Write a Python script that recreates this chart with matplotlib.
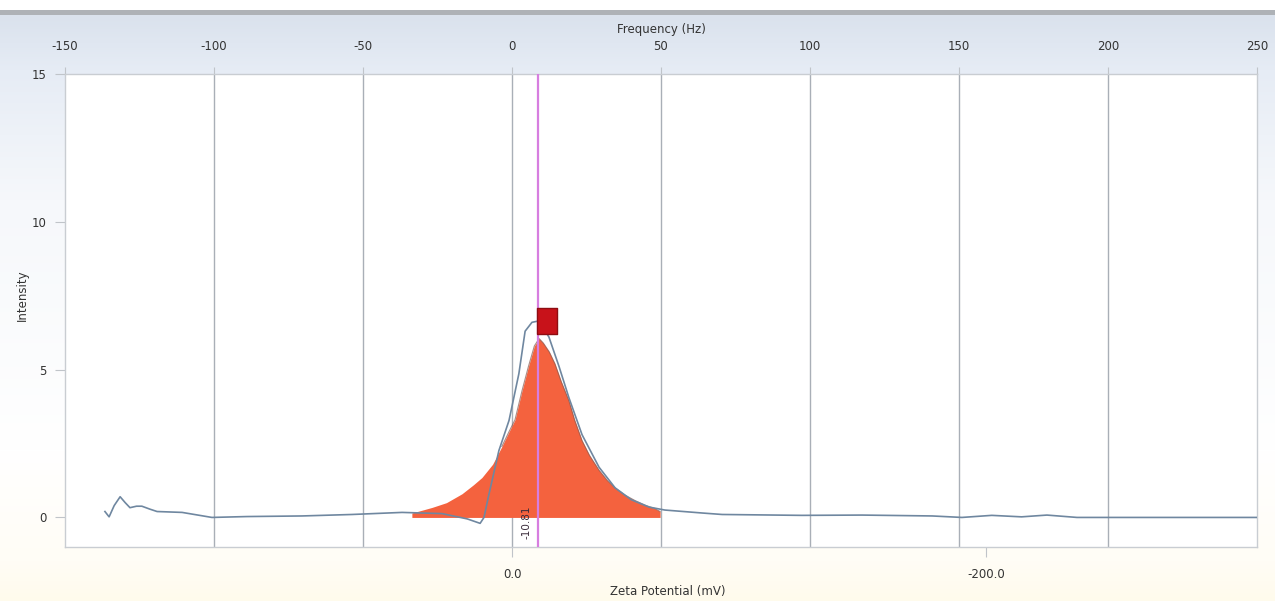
import numpy as np
import matplotlib
matplotlib.use("Agg")
import matplotlib.pyplot as plt
from matplotlib.patches import Rectangle

# ---------------- data ----------------
freq_ticks = [-150, -100, -50, 0, 50, 100, 150, 200, 250]
y_ticks = [0, 5, 10, 15]
zeta_ticks = [0.0, -200.0]
zeta_tick_labels = ["0.0", "-200.0"]
mv_per_hz = -1.258          # zeta potential (mV) per frequency (Hz)

# measured intensity curve (frequency in Hz)
curve_hz = [-136.6, -135.2, -133.5, -131.5, -129.8, -128.2, -126.0, -124.2, -121.5, -119.1,
            -110.7, -100.7, -88.9, -70.5, -53.7, -36.9, -23.5, -15.0, -10.7, -9.4,
            -7.7, -4.4, -1.0, 2.3, 4.4, 6.7, 9.1, 12.4, 15.8, 19.1,
            23.5, 29.2, 34.6, 40.0, 46.0, 51.3, 63.8, 70.5, 97.3, 117.4,
            141.0, 151.0, 161.0, 171.0, 179.5, 189.6, 201.0, 250.0]
curve_int = [0.2, 0.02, 0.4, 0.7, 0.5, 0.33, 0.38, 0.38, 0.28, 0.2,
             0.17, 0.0, 0.03, 0.05, 0.1, 0.17, 0.13, -0.05, -0.2, 0.0,
             0.8, 2.26, 3.28, 4.86, 6.3, 6.6, 6.65, 6.1, 5.1, 4.05,
             2.8, 1.7, 1.0, 0.6, 0.35, 0.25, 0.15, 0.1, 0.07, 0.08,
             0.05, 0.0, 0.07, 0.02, 0.08, 0.0, 0.0, 0.0]

# fitted peak (filled area)
fill_hz = [-33.6, -30.0, -26.8, -22.0, -16.8, -13.0, -10.1, -6.5, -3.4, -1.0,
           1.0, 3.4, 5.5, 7.5, 9.1, 10.5, 12.5, 14.4, 16.5, 19.1,
           21.0, 23.5, 26.0, 29.2, 32.0, 34.6, 38.0, 41.3, 45.0, 48.0, 49.7]
fill_int = [0.15, 0.25, 0.34, 0.5, 0.8, 1.1, 1.35, 1.8, 2.4, 2.9,
            3.3, 4.3, 5.1, 5.8, 6.05, 5.9, 5.6, 5.2, 4.6, 3.95,
            3.3, 2.6, 2.1, 1.6, 1.25, 1.0, 0.75, 0.57, 0.4, 0.3, 0.2]

peak_zeta = -10.81
peak_label = "-10.81"
marker_hz = 11.7
marker_int = 6.65

# ---------------- figure ----------------
W, H = 1275, 601
fig = plt.figure(figsize=(W / 100, H / 100), dpi=100)
plt.rcParams['font.family'] = ['DejaVu Sans']

# background gradient
bg = fig.add_axes([0, 0, 1, 1], zorder=-10)
bg.set_axis_off()
rows = np.arange(H)
stops = [0, 10, 15, 70, 200, 450, 560, 600]
cols = np.array([[255, 255, 255], [255, 255, 255], [218, 226, 237], [230, 236, 245],
                 [246, 248, 251], [255, 255, 255], [255, 253, 246], [255, 251, 236]]) / 255.0
grad = np.stack([np.interp(rows, stops, cols[:, k]) for k in range(3)], axis=1)
img = np.repeat(grad[:, None, :], 4, axis=1)
bg.imshow(img, aspect='auto', extent=[0, 1, 0, 1], origin='upper')
bg.set_xlim(0, 1)
bg.set_ylim(0, 1)
fig.patches.append(Rectangle((0, 1 - 15 / H), 1, 5 / H, transform=fig.transFigure,
                             facecolor='#aeb2b7', edgecolor='none', zorder=-5))

left, right, top, bottom = 65, 1257, 74, 547
ax = fig.add_axes([left / W, 1 - bottom / H, (right - left) / W, (bottom - top) / H])
ax.set_facecolor('white')
ax.set_xlim(freq_ticks[0], freq_ticks[-1])
ax.set_ylim(-1.0, 15)

grid_col = '#a9afb7'
for f in freq_ticks[1:-1]:
    ax.axvline(f, color=grid_col, lw=1.0, zorder=1)

# fill (fitted peak)
ax.fill_between(fill_hz, 0, fill_int, color='#f4623e', lw=0, zorder=2)
ax.plot(fill_hz[8:], fill_int[8:], color='#8a5a50', lw=0.8, zorder=2.5, alpha=0.7)

# measured curve
ax.plot(curve_hz, curve_int, color='#6f87a0', lw=1.2, zorder=3)

# peak line + label
peak_hz = peak_zeta / mv_per_hz
ax.axvline(peak_hz, color='#d77ee0', lw=1.6, zorder=4)
ax.annotate(peak_label, xy=(peak_hz, -0.15), xytext=(-8, 0), textcoords='offset points',
            rotation=90, ha='center', va='center', fontsize=7.5, color='#3a2b3a', zorder=5)

# marker
rect_marker = [(-0.73, -1), (0.73, -1), (0.73, 1), (-0.73, 1), (-0.73, -1)]
ax.plot([marker_hz], [marker_int], marker=rect_marker, markersize=19, color='#c8121a',
        markeredgecolor='#8e0d12', markeredgewidth=1.0, zorder=6, linestyle='none')

# axes styling
for s in ax.spines.values():
    s.set_color('#c9cdd2')
    s.set_linewidth(1.0)

ax.xaxis.tick_top()
ax.set_xticks(freq_ticks)
ax.set_xticklabels([str(v) for v in freq_ticks])
ax.tick_params(axis='x', which='both', top=True, bottom=False, length=5, pad=10,
               color='#c0c4c9', labelsize=8.5, labelcolor='#333333')
ax.set_yticks(y_ticks)
ax.set_yticklabels([str(v) for v in y_ticks])
ax.tick_params(axis='y', length=7, pad=6, color='#c0c4c9', labelsize=8.5, labelcolor='#333333')

sec = ax.secondary_xaxis('bottom', functions=(lambda f: np.asarray(f) * mv_per_hz,
                                              lambda z: np.asarray(z) / mv_per_hz))
sec.set_xticks(zeta_ticks)
sec.set_xticklabels(zeta_tick_labels)
sec.tick_params(length=7, pad=8, color='#c0c4c9', labelsize=8.5, labelcolor='#333333')
sec.spines['bottom'].set_visible(False)

fig.text((left + right) / 2 / W, 1 - 30 / H, "Frequency (Hz)", ha='center', va='center',
         fontsize=8.5, color='#333333')
fig.text(668 / W, 1 - 591 / H, "Zeta Potential (mV)", ha='center', va='center',
         fontsize=8.5, color='#333333')
fig.text(22 / W, 1 - 295 / H, "Intensity", ha='center', va='center', rotation=90,
         fontsize=8.5, color='#333333')

fig.savefig('out.png', dpi=100)
